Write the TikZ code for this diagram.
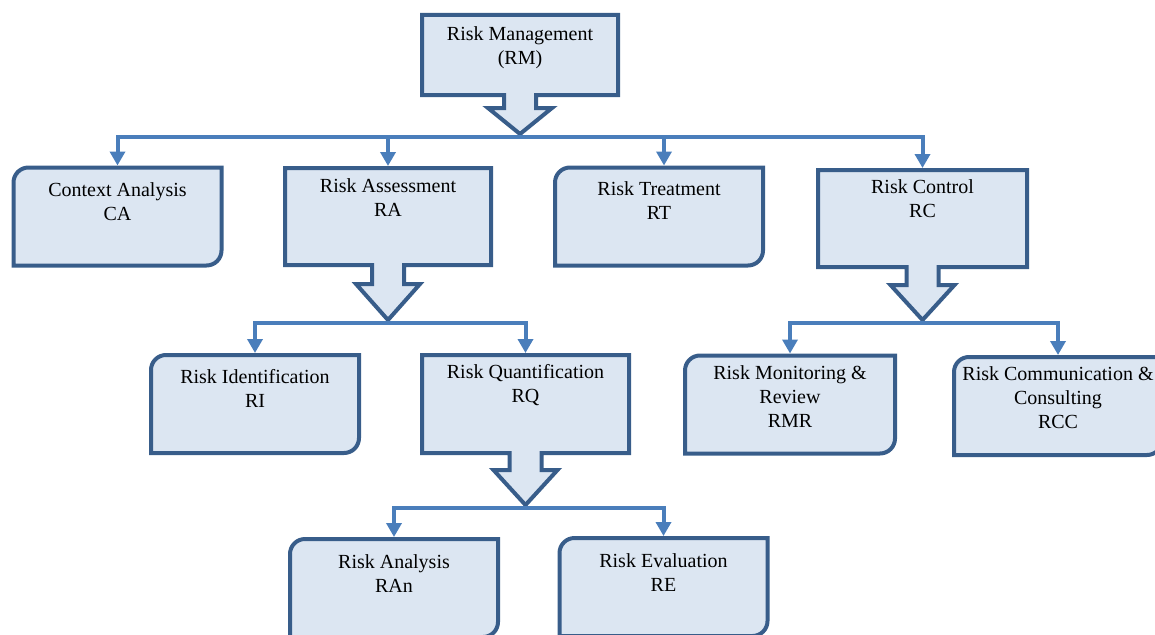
\documentclass[tikz,border=0pt]{standalone}
\usepackage{fontspec}
\setmainfont{Liberation Serif}
\usetikzlibrary{calc,arrows.meta}

\definecolor{edgeblue}{HTML}{385D8A}
\definecolor{paleblue}{HTML}{DCE6F2}
\definecolor{linkblue}{HTML}{4A7EBB}

\tikzset{
  frame/.style={draw=none, fill=none, inner sep=0pt, outer sep=0pt,
    minimum width=#1, minimum height=98pt},
  frame/.default=208pt,
  boxline/.style={draw=edgeblue, fill=paleblue, line width=4pt, line join=miter},
  % labels sit on the baseline of their last line
  lbl/.style={anchor=base, align=center, inner sep=0pt,
    font=\fontsize{20}{24}\selectfont},
  conn/.style={draw=linkblue, line width=4pt,
    -{Triangle[width=15pt,length=14pt]}, shorten >=2pt}
}

% rectangle with a block arrow hanging from its bottom edge
% #1 node, #2 stem length, #3 depth of the arrow tip below the box
\newcommand\calloutshape[3]{%
  \draw[boxline] (#1.north west) -- (#1.north east) -- (#1.south east)
    -- ($(#1.south)+(16,0)$) -- ($(#1.south)+(16,#2)$) -- ($(#1.south)+(32,#2)$)
    -- ($(#1.south)+(0,#3)$) -- ($(#1.south)+(-32,#2)$) -- ($(#1.south)+(-16,#2)$)
    -- ($(#1.south)+(-16,0)$) -- (#1.south west) -- cycle;
  \coordinate (#1-tip) at ($(#1.south)+(0,#3+3)$);}

% box with rounded top-left and bottom-right corners
\newcommand\tabshape[1]{%
  \draw[boxline] let \p1=(#1.north west), \p2=(#1.south east) in
    (\x1,\y2) -- (\x1,\y1-15pt) arc[start angle=180,end angle=90,radius=15pt]
    -- (\x2,\y1) -- (\x2,\y2+15pt) arc[start angle=0,end angle=-90,radius=15pt]
    -- cycle;}

\begin{document}
\begin{tikzpicture}[x=1pt,y=-1pt]
\useasboundingbox (0,0) rectangle (1155,634);

% frames
\node[frame=196pt, minimum height=80pt] (rm) at (520,55) {};
\node[frame=206pt, minimum height=97pt] (ra) at (388,216.5) {};
\node[frame=209pt, minimum height=97pt] (rc) at (922.5,218.5) {};
\node[frame=207pt] (rq) at (525.5,404) {};
\node[frame] (ca) at (117.5,216.5) {};
\node[frame] (rt) at (659,216.5) {};
\node[frame] (ri) at (255,404) {};
\node[frame=210pt] (rmr) at (790,404.5) {};
\node[frame] (rcc) at (1058,406) {};
\node[frame] (ran) at (394,588) {};
\node[frame] (re) at (663.5,587) {};

% outlines
\calloutshape{rm}{13}{39}
\calloutshape{ra}{19}{55}
\calloutshape{rc}{18}{53}
\calloutshape{rq}{17}{52}
\tabshape{ca}
\tabshape{rt}
\tabshape{ri}
\tabshape{rmr}
\tabshape{rcc}
\tabshape{ran}
\tabshape{re}

% labels
\node[lbl] (rm-t) at ([yshift=-49pt]rm.north) {Risk Management\\(RM)};
\node[lbl] (ra-t) at ([yshift=-48pt]ra.north) {Risk Assessment\\RA};
\node[lbl] (rc-t) at ([yshift=-47pt]rc.north) {Risk Control\\RC};
\node[lbl] (rq-t) at ([yshift=-47pt]rq.north) {Risk Quantification\\RQ};
\node[lbl] (ca-t) at ([yshift=-53pt]ca.north) {Context Analysis\\CA};
\node[lbl] (rt-t) at ([yshift=-52pt]rt.north) {Risk Treatment\\RT};
\node[lbl] (ri-t) at ([yshift=-52pt]ri.north) {Risk Identification\\RI};
\node[lbl] (rmr-t) at ([yshift=-72pt]rmr.north) {Risk Monitoring \&\\Review\\RMR};
\node[lbl] (rcc-t) at ([yshift=-71pt]rcc.north) {Risk Communication \&\\Consulting\\RCC};
\node[lbl] (ran-t) at ([yshift=-53pt]ran.north) {Risk Analysis\\RAn};
\node[lbl] (re-t) at ([yshift=-53pt]re.north) {Risk Evaluation\\RE};

% connectors
\draw[conn] (rm-tip) -| (ca.north);
\draw[conn] (rm-tip) -| (ra.north);
\draw[conn] (rm-tip) -| ([xshift=5pt]rt.north);
\draw[conn] (rm-tip) -| (rc.north);
\draw[conn] (ra-tip) -| (ri.north);
\draw[conn] (ra-tip) -| (rq.north);
\draw[conn] (rc-tip) -| (rmr.north);
\draw[conn] (rc-tip) -| (rcc.north);
\draw[conn] (rq-tip) -| (ran.north);
\draw[conn] (rq-tip) -| (re.north);
\end{tikzpicture}
\end{document}
